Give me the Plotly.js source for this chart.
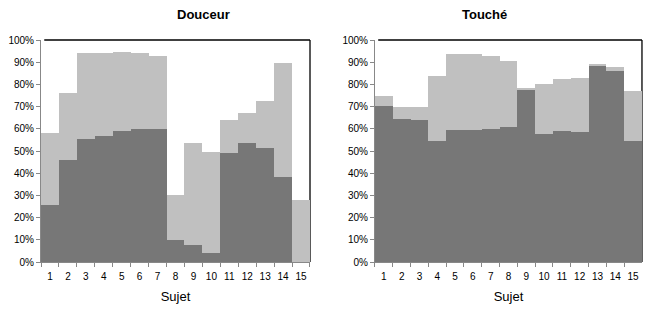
<!DOCTYPE html>
<html>
<head>
<meta charset="utf-8">
<script src="https://cdn.plot.ly/plotly-3.0.1.min.js"></script>
<style>html,body{margin:0;padding:0;background:#fff}#chart{width:648px;height:317px}</style>
</head>
<body>
<div id="chart"></div>
<script>
const subjects = ['1','2','3','4','5','6','7','8','9','10','11','12','13','14','15'];
const douceurTotal = [58.2, 76.2, 94.0, 94.0, 94.6, 94.2, 92.8, 30.3, 53.5, 49.5, 64.0, 67.2, 72.6, 89.7, 27.9];
const douceurDark  = [25.8, 46.0, 55.5, 56.8, 59.1, 59.7, 60.0, 10.0, 7.8, 4.2, 49.2, 53.7, 51.4, 38.4, 0];
const toucheTotal  = [74.8, 69.7, 69.7, 83.8, 93.7, 93.7, 92.8, 90.6, 78.4, 80.2, 82.5, 82.9, 89.2, 87.9, 77.1];
const toucheDark   = [70.3, 64.5, 64.0, 54.6, 59.5, 59.5, 60.0, 60.9, 77.5, 57.7, 59.1, 58.6, 88.3, 86.1, 54.6];

const LIGHT = '#c0c0c0', DARK = '#777777';
const font = {family: 'Liberation Sans, Arial, sans-serif', size: 10, color: '#000'};

function bar(x, y, color, xa, ya) {
  return {type: 'bar', x: x, y: y, xaxis: xa, yaxis: ya, marker: {color: color, line: {width: 0}},
          hoverinfo: 'skip', showlegend: false};
}
const data = [
  bar(subjects, douceurTotal, LIGHT, 'x', 'y'),
  bar(subjects, douceurDark, DARK, 'x', 'y'),
  bar(subjects, toucheTotal, LIGHT, 'x2', 'y2'),
  bar(subjects, toucheDark, DARK, 'x2', 'y2')
];

function xax(domain, anchor) {
  return {domain: domain, anchor: anchor, type: 'category', tickson: 'boundaries', tickangle: 0,
          ticks: 'outside', ticklen: 4, tickcolor: '#888', showline: true, linecolor: '#888',
          ticklabelstandoff: 5,
          showgrid: false, zeroline: false, tickfont: font, fixedrange: true,
          title: {text: 'Sujet', font: {family: font.family, size: 13, color: '#000'}, standoff: 10}};
}
function yax(domain, anchor) {
  return {domain: [0, 1], anchor: anchor, range: [0, 100], dtick: 10, ticksuffix: '%',
          ticks: 'outside', ticklen: 4, tickcolor: '#888', showline: true, linecolor: '#888',
          showgrid: false, zeroline: false, tickfont: font, fixedrange: true};
}
function border(xr, yr) {
  return [
    {type: 'line', xref: xr + ' domain', yref: yr + ' domain', x0: 0.012, x1: 1, y0: 1, y1: 1,
     line: {color: '#000', width: 1.3}, layer: 'below'},
    {type: 'line', xref: xr + ' domain', yref: yr + ' domain', x0: 1, x1: 1, y0: 0, y1: 1,
     line: {color: '#000', width: 1.3}, layer: 'below'}
  ];
}
const layout = {
  width: 648, height: 317,
  margin: {l: 0, r: 0, t: 40, b: 55},
  paper_bgcolor: '#fff', plot_bgcolor: '#fff',
  barmode: 'overlay', bargap: 0,
  font: font,
  xaxis: xax([0.0633, 0.4784], 'y'),
  yaxis: yax(null, 'x'),
  xaxis2: xax([0.5787, 0.9907], 'y2'),
  yaxis2: yax(null, 'x2'),
  shapes: border('x', 'y').concat(border('x2', 'y2')),
  annotations: [
    {text: '<b>Douceur</b>', xref: 'paper', yref: 'paper', x: 0.27, y: 1, yshift: 26, yanchor: 'middle',
     showarrow: false, font: {family: font.family, size: 13, color: '#000'}},
    {text: '<b>Touché</b>', xref: 'paper', yref: 'paper', x: 0.785, y: 1, yshift: 26, yanchor: 'middle',
     showarrow: false, font: {family: font.family, size: 13, color: '#000'}}
  ]
};
Plotly.newPlot('chart', data, layout, {staticPlot: true, displayModeBar: false});
</script>
</body>
</html>
